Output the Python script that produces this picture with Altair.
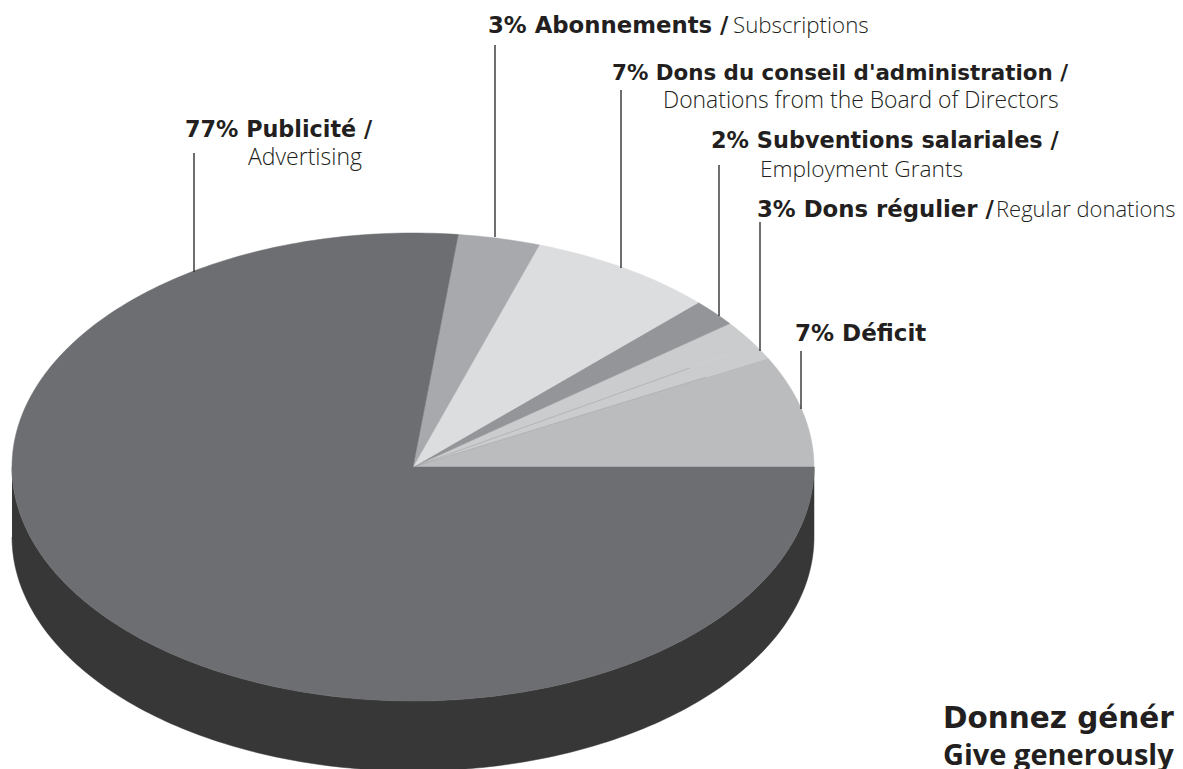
import math
import altair as alt
import pandas as pd

# shares of the whole disc (percent), counter-clockwise from east
slices = ["Déficit", "Dons régulier a", "Dons régulier b", "Subventions", "Conseil", "Abonnements", "Publicité"]
shares = [7.7, 1.05, 1.75, 1.9, 7.5, 3.3, 76.8]
fills = ["#bbbcbe", "#cbcccd", "#cbcccd", "#939598", "#dcddde", "#a7a9ac", "#6d6e71"]
side_fill = "#373737"

cx, cy, rx, ry, depth = 413, 467, 401, 234, 70

bold_labels = ["3% Abonnements /", "7% Dons du conseil d'administration /", "2% Subventions salariales /",
               "3% Dons régulier /", "7% Déficit", "77% Publicité /"]
bold_x = [488, 612, 711, 757, 795, 185]
bold_y = [33, 80, 148, 217, 341, 137]
bold_size = [22.8, 21.4, 22.4, 22.8, 23, 22.3]
light_labels = ["Subscriptions", "Donations from the Board of Directors", "Employment Grants", "Regular donations", "Advertising"]
light_x = [733, 663, 760, 996, 248]
light_y = [33, 108, 177, 217, 165]
light_size = [22.3, 22.9, 22.7, 22, 23]
leader_x = [495, 621, 719, 760, 801, 194]
leader_top = [45, 90, 165, 222, 351, 153]
leader_bottom = [237, 268, 316, 351, 409, 272]
# hairlines along the two inner slice edges: cumulative share and how far out they run
seam_share = [8.75, 7.7]
seam_reach = [0.81, 0.825]

rows = []
start = 0.0
for name, share, in zip(slices, shares):
    end = start + share
    n = max(3, int(share * 4))
    rows.append({"slice": name, "i": 0, "x": cx, "y": cy})
    for k in range(n + 1):
        a = math.radians(3.6 * (start + share * k / n))
        rows.append({"slice": name, "i": k + 1, "x": cx + rx * math.cos(a), "y": cy - ry * math.sin(a)})
    rows.append({"slice": name, "i": n + 2, "x": cx, "y": cy})
    start = end
wedges = pd.DataFrame(rows)

side = []
for k in range(181):
    a = math.radians(180 + k)
    side.append({"i": k, "x": cx + rx * math.cos(a), "y": cy + depth - ry * math.sin(a)})
for k in range(181):
    a = math.radians(360 - k)
    side.append({"i": 181 + k, "x": cx + rx * math.cos(a), "y": cy - ry * math.sin(a)})
side = pd.DataFrame(side)

seams = pd.DataFrame([
    {"x": cx, "y": cy,
     "x2": cx + r * rx * math.cos(math.radians(3.6 * s)),
     "y2": cy - r * ry * math.sin(math.radians(3.6 * s))}
    for s, r in zip(seam_share, seam_reach)
])

W, H = 1167, 761
X = alt.X("x:Q", scale=alt.Scale(domain=[8, 8 + W], range=[0, W], nice=False, zero=False), axis=None)
Y = alt.Y("y:Q", scale=alt.Scale(domain=[8, 8 + H], range=[0, H], nice=False, zero=False), axis=None)

side_layer = alt.Chart(side).mark_line(fill=side_fill, stroke=side_fill, strokeWidth=0.5).encode(
    x=X, y=Y, order="i:Q")

color_scale = alt.Scale(domain=slices, range=fills)
wedge_layer = alt.Chart(wedges).mark_line(strokeWidth=0.5, strokeJoin="round").encode(
    x=X, y=Y, order="i:Q",
    fill=alt.Fill("slice:N", scale=color_scale, legend=None),
    stroke=alt.Stroke("slice:N", scale=color_scale, legend=None))

seam_layer = alt.Chart(seams).mark_rule(color="#a0a1a4", strokeWidth=0.6).encode(x=X, y=Y, x2="x2:Q", y2="y2:Q")

leaders = pd.DataFrame({"x": leader_x, "y": leader_top, "y2": leader_bottom})
leader_layer = alt.Chart(leaders).mark_rule(color="#231f20", strokeWidth=1.3).encode(x=X, y=Y, y2="y2:Q")

def sized_text(labels, xs, ys, sizes, **kw):
    d = pd.DataFrame({"x": xs, "y": ys, "t": labels, "s": sizes})
    return alt.Chart(d).mark_text(align="left", baseline="alphabetic", color="#231f20", **kw).encode(
        x=X, y=Y, text="t:N", size=alt.Size("s:Q", scale=None))

bold = sized_text(bold_labels, bold_x, bold_y, bold_size, font="DejaVu Sans", fontWeight="bold")
light = sized_text(light_labels, light_x, light_y, light_size, font="Open Sans", fontWeight=300)
call1 = sized_text(["Donnez généreusement"], [943], [728], [29.5], font="DejaVu Sans", fontWeight="bold")
call2 = sized_text(["Give generously"], [943], [765], [29], font="Open Sans", fontWeight=700)

chart = alt.layer(side_layer, wedge_layer, seam_layer, leader_layer, bold, light, call1, call2).properties(
    width=W, height=H, padding=0, autosize=alt.AutoSizeParams(type="none"), background="white"
).configure_view(stroke=None)

chart.save("out.html", embed_options={"renderer": "svg", "actions": False})
